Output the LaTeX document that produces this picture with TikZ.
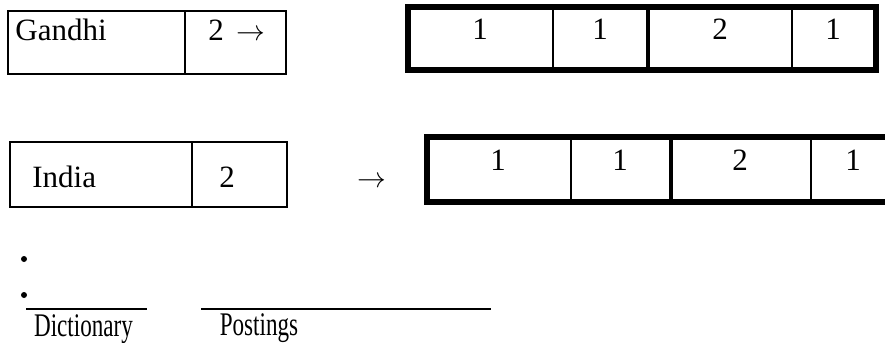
\documentclass[tikz,border=0pt]{standalone}
\usepackage{fontspec}
\setmainfont{Liberation Serif}
\usepackage{graphicx}

\tikzset{
  dictbox/.style={line width=0.8pt},
  postbox/.style={line width=3pt},
  postsep/.style={line width=1pt},
  postmid/.style={line width=2pt},
  entry/.style={anchor=base, inner sep=0pt, font=\fontsize{15.5}{18}\selectfont},
  caption/.style={anchor=base, inner sep=0pt, font=\fontsize{16.5}{19}\selectfont},
}

\begin{document}
\begin{tikzpicture}[x=0.5pt,y=-0.5pt]

	\useasboundingbox (0,0) rectangle (885,343);
	\clip (0,0) rectangle (885,343);

	% dictionary entry: Gandhi
	\draw[dictbox] (8,11) rectangle (286,74);
	\draw[dictbox] (185,11) -- (185,74);
	\node[entry, anchor=base west] (gandhi) at (15,40) {Gandhi};
	\node[entry, anchor=base west] (gandhifreq) at (208,40) {2\hspace{0.4em}$\rightarrow$};

	% postings of Gandhi
	\draw[postbox] (408,7) rectangle (876,70);
	\draw[postsep] (553,7) -- (553,70);
	\draw[postmid] (648,7) -- (648,70);
	\draw[postsep] (792,7) -- (792,70);
	\node[entry] (ga) at (480,39) {1};
	\node[entry] (gb) at (600,39) {1};
	\node[entry] (gc) at (720,39) {2};
	\node[entry] (gd) at (833,39) {1};

	% dictionary entry: India
	\draw[dictbox] (10,142) rectangle (287,207);
	\draw[dictbox] (192,142) -- (192,207);
	\node[entry, anchor=base west] (india) at (32,187) {India};
	\node[entry] (indiafreq) at (227,187) {2};
	\node[entry] (indiaptr) at (372,187) {$\rightarrow$};

	% postings of India
	\draw[postbox] (427,137) rectangle (905,202);
	\draw[postsep] (571,137) -- (571,202);
	\draw[postmid] (671,137) -- (671,202);
	\draw[postsep] (811,137) -- (811,202);
	\node[entry] (ia) at (498,170) {1};
	\node[entry] (ib) at (620,170) {1};
	\node[entry] (ic) at (740,170) {2};
	\node[entry] (id) at (853,170) {1};

	% dots
	\fill (24,259) circle (3);
	\fill (24,295) circle (3);

	% captions
	\draw[line width=0.6pt] (26,309) -- (147,309);
	\draw[line width=0.6pt] (201,309) -- (491,309);
	\node[caption] (dict) at (83.5,336) {\scalebox{0.7}[1]{Dictionary}};
	\node[caption] (post) at (259,335) {\scalebox{0.7}[1]{Postings}};

\end{tikzpicture}
\end{document}
